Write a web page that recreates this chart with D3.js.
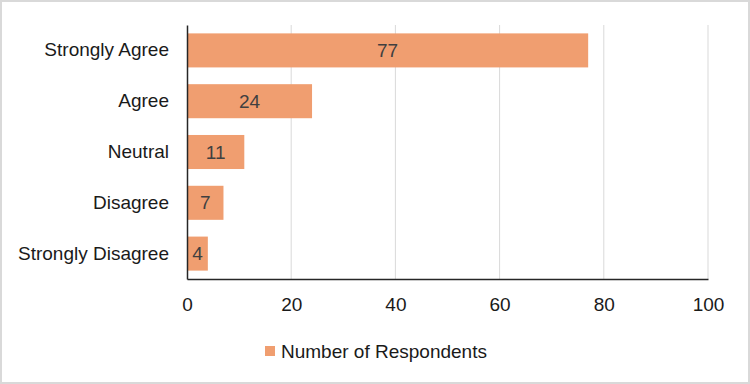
<!DOCTYPE html>
<html>
<head>
<meta charset="utf-8">
<script src="https://cdn.jsdelivr.net/npm/d3@7"></script>
<style>
	body { margin: 0; background: #fff; }
	svg { font-family: "Liberation Sans", Arial, sans-serif; }
</style>
</head>
<body>
<script>
var categories = ['Strongly Agree', 'Agree', 'Neutral', 'Disagree', 'Strongly Disagree'];
var respondents = [77, 24, 11, 7, 4];
var xTicks = [0, 20, 40, 60, 80, 100];
var seriesName = 'Number of Respondents';

var width = 750;
var height = 384;
var margin = {top: 25, right: 42, bottom: 105, left: 187};
var barColor = '#F09E70';
var fontSize = 19;

var svg = d3.select('body')
	.append('svg')
	.attr('width', width)
	.attr('height', height);

// outer frame
svg.append('rect')
	.attr('x', 1)
	.attr('y', 1)
	.attr('width', width - 2)
	.attr('height', height - 2)
	.attr('fill', '#fff')
	.attr('stroke', '#d9d9d9')
	.attr('stroke-width', 2);

var xScale = d3.scaleLinear()
	.domain([0, 100])
	.range([margin.left, width - margin.right]);

var yScale = d3.scaleBand()
	.domain(categories)
	.range([margin.top, height - margin.bottom])
	.paddingInner(0.33)
	.paddingOuter(0.165);

// gridlines
svg.selectAll('.grid')
	.data(xTicks.slice(1))
	.enter()
	.append('line')
	.attr('class', 'grid')
	.attr('x1', function(d) { return xScale(d); })
	.attr('x2', function(d) { return xScale(d); })
	.attr('y1', margin.top)
	.attr('y2', height - margin.bottom)
	.attr('stroke', '#d9d9d9')
	.attr('stroke-width', 1);

svg.selectAll('.bar')
	.data(respondents)
	.enter()
	.append('rect')
	.attr('class', 'bar')
	.attr('x', xScale(0))
	.attr('y', function(d, i) { return yScale(categories[i]); })
	.attr('width', function(d) { return xScale(d) - xScale(0); })
	.attr('height', yScale.bandwidth())
	.attr('fill', barColor);

svg.selectAll('.value')
	.data(respondents)
	.enter()
	.append('text')
	.attr('class', 'value')
	.attr('x', function(d) { return (xScale(d) + xScale(0)) / 2; })
	.attr('y', function(d, i) { return yScale(categories[i]) + yScale.bandwidth() / 2; })
	.attr('dy', '0.35em')
	.attr('text-anchor', 'middle')
	.attr('font-size', fontSize)
	.attr('fill', '#404040')
	.text(function(d) { return d; });

// axes
var xAxis = d3.axisBottom(xScale)
	.tickValues(xTicks)
	.tickSize(0)
	.tickPadding(19);

var gx = svg.append('g')
	.attr('transform', 'translate(0,' + (height - margin.bottom) + ')')
	.call(xAxis);
gx.select('.domain').attr('stroke', '#262626').attr('stroke-width', 1.5);
gx.selectAll('text').attr('font-size', fontSize).attr('fill', '#1a1a1a');

var yAxis = d3.axisLeft(yScale)
	.tickSize(0)
	.tickPadding(18);

var gy = svg.append('g')
	.attr('transform', 'translate(' + margin.left + ',0)')
	.call(yAxis);
gy.select('.domain').attr('stroke', '#262626').attr('stroke-width', 1.5);
gy.selectAll('text').attr('font-size', fontSize).attr('fill', '#1a1a1a');

// legend
var legend = svg.append('g')
	.attr('transform', 'translate(265,351)');
legend.append('rect')
	.attr('x', 0)
	.attr('y', -5)
	.attr('width', 10)
	.attr('height', 10)
	.attr('fill', barColor);
legend.append('text')
	.attr('x', 16)
	.attr('y', 0)
	.attr('dy', '0.35em')
	.attr('font-size', fontSize)
	.attr('fill', '#1a1a1a')
	.text(seriesName);
</script>
</body>
</html>
